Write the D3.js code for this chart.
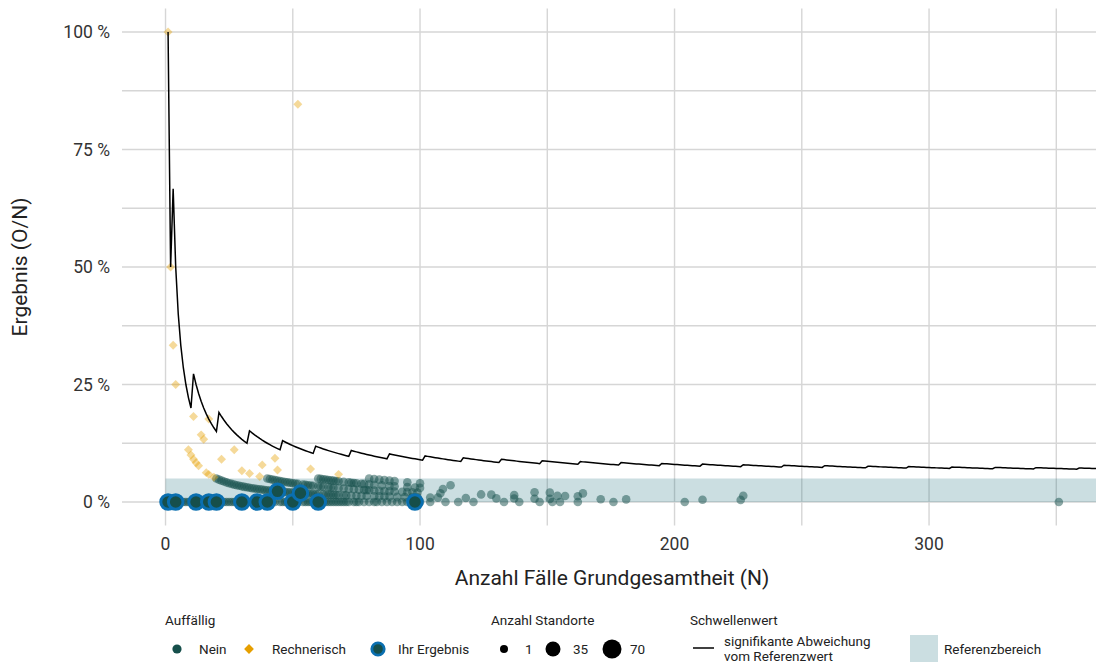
<!DOCTYPE html>
<html><head><meta charset="utf-8">
<script src="https://cdn.jsdelivr.net/npm/d3@7"></script>
<style>
html,body{margin:0;padding:0;background:#fff;}
svg text{font-family:Roboto,"Noto Sans",sans-serif;}
</style></head>
<body><svg id="c" width="1096" height="664"></svg>
<script>
// ---------- data ----------
// threshold ("Schwellenwert"): count of events needed, starting at given N
const thresholdStartN = [1,3,11,21,33,46,59,73,88,102,117,132,148,163,179,195,211,227,243,259,276,292,309,326,342,359];
const thresholdCount  = [1,2,3,4,5,6,7,8,9,10,11,12,13,14,15,16,17,18,19,20,21,22,23,24,25,26];
const thresholdMaxN = 370;

// "Nein" (not conspicuous) locations, grouped by observed count O
const neinN_O0 = [1,2,3,5,6,7,8,9,10,11,13,14,15,16,18,19,21,22,23,24,25,26,27,28,29,32,33,34,35,37,38,39,41,42,43,45,46,47,48,49,51,52,54,55,56,57,58,59,61,62,63,64,65,66,67,68,69,70,71,72,74,75,76,78,80,82,83,85,87,89,91,93,95,97,100,104,110,115,121,133,139,147,152,155,162,176,204,351];
const neinN_O1 = [20,21,22,23,24,25,26,27,28,29,30,31,32,33,34,35,36,37,38,39,40,41,42,43,44,45,46,47,48,49,50,51,52,53,54,55,56,57,58,59,60,62,63,64,65,66,67,68,70,71,73,75,77,79,82,84,86,88,91,94,97,99,104,107,118,130,137,145,151,171,181,211,226];
const neinN_O2 = [40,41,42,43,44,45,46,47,48,49,50,51,52,54,55,56,57,58,60,61,62,64,65,66,68,70,72,74,76,78,79,80,82,84,86,88,90,93,95,97,99,108,124,128,137,154,157,162];
const neinN_O3 = [60,61,62,63,64,65,66,67,68,70,72,73,74,75,77,78,80,82,85,88,90,95,98,100,109,145,151,164,227];
const neinN_O4 = [80,82,84,86,88,90,95,100,112];

// "Rechnerisch" (computationally conspicuous)
const rechnN = [1,2,3,4,9,10,11,11,12,13,14,15,16,17,17,19,22,27,30,33,37,38,43,44,52,57,68];
const rechnO = [1,1,1,1,1,1,1,2,1,1,2,2,1,1,3,1,2,3,2,2,2,3,4,3,44,4,4];

// "Ihr Ergebnis" (your result)
const ihrN = [1,4,12,17,20,30,36,40,44,50,53,60,98];
const ihrO = [0,0,0,0,0,0,0,0,1,0,1,0,0];

const refLow = 0, refHigh = 0.05;
const xTicks = [0,100,200,300];
const xGrid = [0,50,100,150,200,250,300,350];
const yTicks = [0,0.25,0.5,0.75,1];
const yGrid = [0,0.125,0.25,0.375,0.5,0.625,0.75,0.875,1];
const sizeLegend = [1,35,70];

// ---------- drawing ----------
const svg = d3.select("#c");
const P = {l:122, r:1096, t:8.5, b:525.5};
const x = d3.scaleLinear().domain([-17.1,365.6]).range([P.l,P.r]);
const y = d3.scaleLinear().domain([-0.05,1.05]).range([P.b,P.t]);
const rSize = d3.scaleSqrt().domain([1,70]).range([4.3,9.5]);
const GREEN = "#164f4b", ORANGE = "#E69F00", BLUE = "#0a6fb0";

svg.append("defs").append("clipPath").attr("id","pc")
  .append("rect").attr("x",P.l).attr("y",P.t).attr("width",P.r-P.l).attr("height",P.b-P.t);

const grid = svg.append("g");
grid.selectAll(".gx").data(xGrid).enter().append("line")
  .attr("x1",d=>x(d)).attr("x2",d=>x(d)).attr("y1",P.t).attr("y2",P.b)
  .attr("stroke","#d6d6d6").attr("stroke-width",1.4);
grid.selectAll(".gy").data(yGrid).enter().append("line")
  .attr("x1",P.l).attr("x2",P.r).attr("y1",d=>y(d)).attr("y2",d=>y(d))
  .attr("stroke","#d6d6d6").attr("stroke-width",1.4);

const plot = svg.append("g").attr("clip-path","url(#pc)");

// reference band
plot.append("rect").attr("x",x(0)).attr("width",P.r-x(0))
  .attr("y",y(refHigh)).attr("height",y(refLow)-y(refHigh))
  .attr("fill","#0b6470").attr("fill-opacity",0.21);

// nein points
const nein = [];
[[neinN_O0,0],[neinN_O1,1],[neinN_O2,2],[neinN_O3,3],[neinN_O4,4]].forEach(([arr,o])=>arr.forEach(n=>nein.push({n,o,s:1})));
plot.selectAll(".nein").data(nein).enter().append("circle")
  .attr("cx",d=>x(d.n)).attr("cy",d=>y(d.o/d.n)).attr("r",d=>rSize(d.s))
  .attr("fill",GREEN).attr("fill-opacity",0.5);

// rechnerisch diamonds
const rechn = rechnN.map((n,i)=>({n,o:rechnO[i]}));
plot.selectAll(".re").data(rechn).enter().append("path")
  .attr("d", d3.symbol().type(d3.symbolSquare).size(40))
  .attr("transform",d=>`translate(${x(d.n)},${y(d.o/d.n)}) rotate(45)`)
  .attr("fill",ORANGE).attr("fill-opacity",0.4);

// threshold line
const thr = [];
thresholdStartN.forEach((s,i)=>{
  const e = i<thresholdStartN.length-1 ? thresholdStartN[i+1]-1 : thresholdMaxN;
  for(let n=s;n<=e;n++) thr.push({n,v:thresholdCount[i]/n});
});
plot.append("path").datum(thr)
  .attr("d",d3.line().x(d=>x(d.n)).y(d=>y(d.v)))
  .attr("fill","none").attr("stroke","#000").attr("stroke-width",1.5).attr("stroke-linejoin","miter");

// Ihr Ergebnis
const ihr = ihrN.map((n,i)=>({n,o:ihrO[i]}));
plot.selectAll(".ihr").data(ihr).enter().append("circle")
  .attr("cx",d=>x(d.n)).attr("cy",d=>y(d.o/d.n)).attr("r",7.3)
  .attr("fill",GREEN).attr("stroke",BLUE).attr("stroke-width",3);

// axes labels
const axC = "#333";
svg.selectAll(".yt").data(yTicks).enter().append("text")
  .attr("x",110).attr("y",d=>y(d)).attr("dy","0.35em").attr("text-anchor","end")
  .attr("font-size",17.5).attr("fill",axC).text(d=>Math.round(d*100)+" %");
svg.selectAll(".xt").data(xTicks).enter().append("text")
  .attr("x",d=>x(d)).attr("y",544).attr("dy","0.35em").attr("text-anchor","middle")
  .attr("font-size",17.5).attr("fill",axC).text(d=>d);
svg.append("text").attr("x",(P.l+P.r)/2+3).attr("y",578).attr("dy","0.35em")
  .attr("text-anchor","middle").attr("font-size",21).attr("fill","#222")
  .text("Anzahl Fälle Grundgesamtheit (N)");
svg.append("text").attr("transform",`translate(20,${(P.t+P.b)/2}) rotate(-90)`)
  .attr("dy","0.35em").attr("text-anchor","middle").attr("font-size",21).attr("fill","#222")
  .text("Ergebnis (O/N)");

// legend
const L = svg.append("g").attr("font-size",13.5).attr("fill","#222");
const ly = 649;
L.append("text").attr("x",165).attr("y",620).attr("dy","0.35em").text("Auffällig");
L.append("circle").attr("cx",177).attr("cy",ly).attr("r",4.6).attr("fill",GREEN);
L.append("text").attr("x",199).attr("y",ly).attr("dy","0.35em").text("Nein");
L.append("path").attr("d",d3.symbol().type(d3.symbolSquare).size(48))
  .attr("transform",`translate(249,${ly}) rotate(45)`).attr("fill",ORANGE);
L.append("text").attr("x",272).attr("y",ly).attr("dy","0.35em").text("Rechnerisch");
L.append("circle").attr("cx",378).attr("cy",ly).attr("r",6.2).attr("fill",GREEN).attr("stroke",BLUE).attr("stroke-width",2.8);
L.append("text").attr("x",398).attr("y",ly).attr("dy","0.35em").text("Ihr Ergebnis");

L.append("text").attr("x",491).attr("y",620).attr("dy","0.35em").text("Anzahl Standorte");
const sx = [504,553,612], tx=[525,573,630];
sizeLegend.forEach((s,i)=>{
  L.append("circle").attr("cx",sx[i]).attr("cy",ly).attr("r",[4,7.5,9.5][i]).attr("fill","#000");
  L.append("text").attr("x",tx[i]).attr("y",ly).attr("dy","0.35em").text(s);
});

L.append("text").attr("x",690).attr("y",620).attr("dy","0.35em").text("Schwellenwert");
L.append("line").attr("x1",693).attr("x2",714).attr("y1",648).attr("y2",648).attr("stroke","#000").attr("stroke-width",1.5);
L.append("text").attr("x",724).attr("y",641).attr("dy","0.35em").text("signifikante Abweichung");
L.append("text").attr("x",724).attr("y",656).attr("dy","0.35em").text("vom Referenzwert");
L.append("rect").attr("x",910).attr("y",635).attr("width",28).attr("height",27).attr("fill","#0b6470").attr("fill-opacity",0.21);
L.append("text").attr("x",944).attr("y",649).attr("dy","0.35em").text("Referenzbereich");
</script></body></html>
